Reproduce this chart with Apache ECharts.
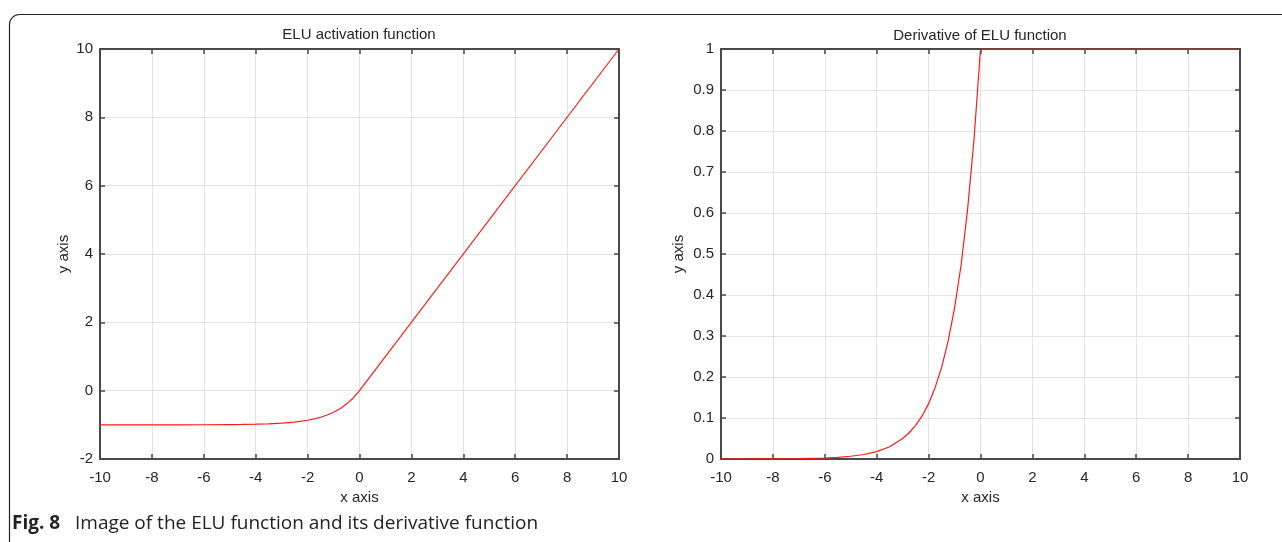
<!DOCTYPE html>
<html>
<head>
<meta charset="utf-8">
<script src="https://cdn.jsdelivr.net/npm/echarts@6/dist/echarts.min.js"></script>
<style>
  html, body { margin: 0; padding: 0; background: #fff; }
  #container { width: 1282px; height: 542px; }
</style>
</head>
<body>
<div id="container"></div>
<script>
// ELU curve
var eluX = [-10, -9, -8, -7, -6, -5, -4.5, -4, -3.5, -3, -2.5, -2, -1.75, -1.5, -1.25, -1, -0.75, -0.5, -0.25, 0, 10];
var eluY = [-1.0, -1.0, -1.0, -0.999, -0.998, -0.993, -0.989, -0.982, -0.970, -0.950, -0.918, -0.865, -0.826, -0.777, -0.713, -0.632, -0.528, -0.393, -0.221, 0, 10];

// derivative curve
var derX = [-10, -9, -8, -7, -6, -5.5, -5, -4.5, -4, -3.5, -3, -2.75, -2.5, -2.25, -2, -1.75, -1.5, -1.25, -1, -0.75, -0.5, -0.25, 0, 10];
var derY = [0, 0.0001, 0.0003, 0.0009, 0.0025, 0.004, 0.0067, 0.011, 0.018, 0.030, 0.050, 0.064, 0.082, 0.105, 0.135, 0.174, 0.223, 0.287, 0.368, 0.472, 0.607, 0.779, 1.0, 1.0];

var titles = ["ELU activation function", "Derivative of ELU function"];
var caption = ["Fig. 8", "Image of the ELU function and its derivative function"];

function pairs(xs, ys) {
  var out = [];
  for (var i = 0; i < xs.length; i++) out.push([xs[i], ys[i]]);
  return out;
}

var font = "Liberation Sans";
var frameColor = "#4a4a4a";
var labelColor = "#262626";

function xAxes(gi) {
  return [
    {
      type: "value", gridIndex: gi, position: "bottom", min: -10, max: 10, interval: 2,
      name: "x axis", nameLocation: "middle", nameGap: 31,
      nameTextStyle: { fontFamily: font, fontSize: 15, color: labelColor },
      axisLine: { show: true, onZero: false, lineStyle: { color: frameColor, width: 2 } },
      axisTick: { show: true, inside: true, length: 5, lineStyle: { color: frameColor, width: 1.5 } },
      axisLabel: { fontFamily: font, fontSize: 15, color: labelColor, margin: 11 },
      splitLine: { show: true, lineStyle: { color: "#e3e3e3", width: 1 } },
    },
    {
      type: "value", gridIndex: gi, position: "top", min: -10, max: 10, interval: 2,
      axisLine: { show: true, onZero: false, lineStyle: { color: frameColor, width: 2 } },
      axisTick: { show: true, inside: true, length: 5, lineStyle: { color: frameColor, width: 1.5 } },
      axisLabel: { show: false },
      splitLine: { show: false },
    },
  ];
}

function yAxes(gi, min, max, interval, gap, fmt) {
  return [
    {
      type: "value", gridIndex: gi, position: "left", min: min, max: max, interval: interval,
      name: "y axis", nameLocation: "middle", nameGap: gap,
      nameTextStyle: { fontFamily: font, fontSize: 15, color: labelColor },
      axisLine: { show: true, onZero: false, lineStyle: { color: frameColor, width: 2 } },
      axisTick: { show: true, inside: true, length: 5, lineStyle: { color: frameColor, width: 1.5 } },
      axisLabel: { fontFamily: font, fontSize: 15, color: labelColor, margin: 7, formatter: fmt },
      splitLine: { show: true, lineStyle: { color: "#e3e3e3", width: 1 } },
    },
    {
      type: "value", gridIndex: gi, position: "right", min: min, max: max, interval: interval,
      axisLine: { show: true, onZero: false, lineStyle: { color: frameColor, width: 2 } },
      axisTick: { show: true, inside: true, length: 5, lineStyle: { color: frameColor, width: 1.5 } },
      axisLabel: { show: false },
      splitLine: { show: false },
    },
  ];
}

var myChart = echarts.init(document.getElementById("container"), null, { renderer: "canvas" });

var xs = xAxes(0).concat(xAxes(1));
var ys = yAxes(0, -2, 10, 2, 29, null).concat(
  yAxes(1, 0, 1, 0.1, 35, function (v) { return Math.round(v * 10) / 10 + ""; })
);

myChart.setOption({
  animation: false,
  grid: [
    { left: 100, right: 663, top: 49, bottom: 83 },
    { left: 721, right: 42, top: 49, bottom: 83 },
  ],
  xAxis: xs,
  yAxis: ys,
  graphic: [
    // rounded figure frame
    {
      type: "rect", left: 7, top: 12, silent: true,
      shape: { width: 1400, height: 538, r: 10 },
      style: { fill: null, stroke: "#222", lineWidth: 1.2 },
    },
    {
      type: "text", x: 359, y: 35,
      style: { text: titles[0], font: "15px " + font, fill: labelColor, textAlign: "center", textVerticalAlign: "middle" },
    },
    {
      type: "text", x: 980, y: 36,
      style: { text: titles[1], font: "15px " + font, fill: labelColor, textAlign: "center", textVerticalAlign: "middle" },
    },
    {
      type: "text", x: 12, y: 524,
      style: {
        text: "{b|" + caption[0] + "}   " + caption[1],
        font: "19px 'Open Sans'", fill: "#222", textVerticalAlign: "middle",
        rich: { b: { fontFamily: "Open Sans", fontWeight: "bold", fontSize: 19, fill: "#222" } },
      },
    },
  ],
  series: [
    {
      type: "line", xAxisIndex: 0, yAxisIndex: 0, showSymbol: false, smooth: false,
      lineStyle: { color: "#ff1a1a", width: 1.2 },
      data: pairs(eluX, eluY),
    },
    {
      type: "line", xAxisIndex: 2, yAxisIndex: 2, showSymbol: false, smooth: false,
      lineStyle: { color: "#ff1a1a", width: 1.2 },
      data: pairs(derX, derY),
    },
  ],
});
</script>
</body>
</html>
